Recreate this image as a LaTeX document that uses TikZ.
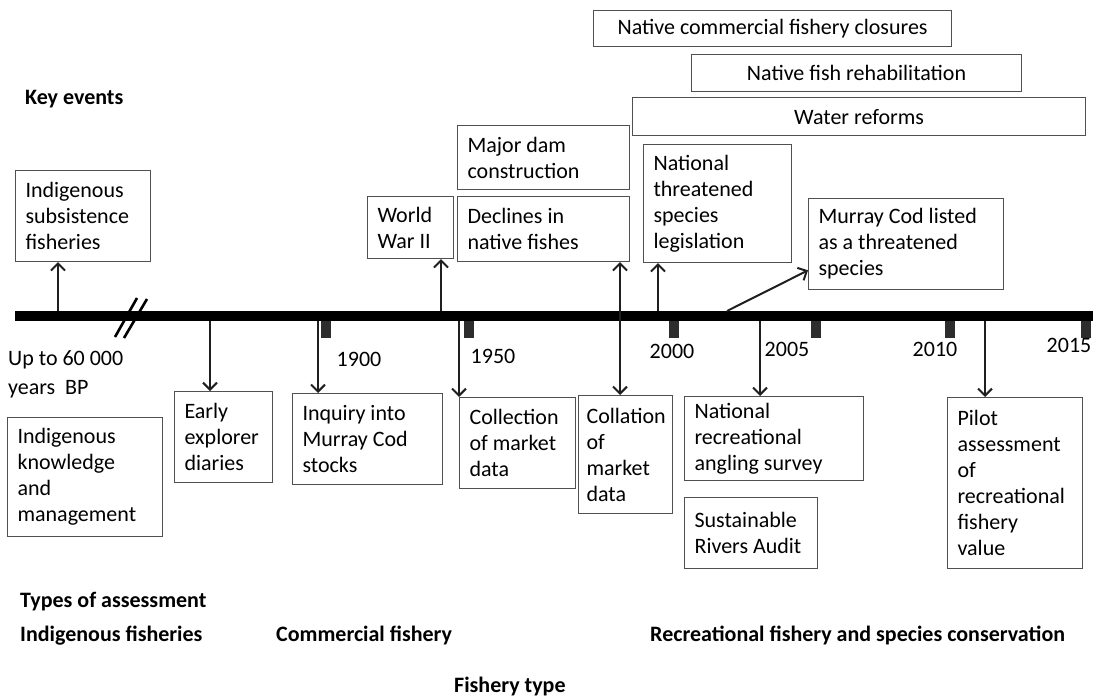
\documentclass[tikz,border=0pt]{standalone}
\usepackage{fontspec}
\setmainfont{Carlito}
\usetikzlibrary{arrows.meta}

\definecolor{boxgray}{RGB}{80,80,80}
\definecolor{tickgray}{RGB}{45,45,45}

\tikzset{
  evbox/.style={draw=boxgray, line width=1.1pt, anchor=north west, align=flush left, inner xsep=10pt, inner ysep=3pt},
  spanbox/.style={draw=boxgray, line width=1.1pt, anchor=north west, align=center, inner sep=0pt},
  evarrow/.style={draw=black!88, line width=2pt, -{Straight Barb[length=7pt,width=14pt,line width=2pt]}},
  yrlabel/.style={inner sep=0pt},
  heading/.style={font=\fontsize{22}{26}\selectfont\bfseries, anchor=base west, inner sep=0pt}
}

\begin{document}
\begin{tikzpicture}[x=1pt,y=-1pt,font=\fontsize{22}{26}\selectfont]
\useasboundingbox (0,0) rectangle (1102,698);

% time line
\coordinate (tl0) at (15,316);
\coordinate (tl1) at (1093,316);
\draw[line width=10pt] (tl0) -- (tl1);

% break in the line
\draw[line width=2.6pt] (115,337) -- (137,298);
\draw[line width=2.6pt] (124,338) -- (147,299);

% years
\fill[tickgray] (321,321) rectangle (331,338);
\fill[tickgray] (464,321) rectangle (474,338);
\fill[tickgray] (669,321) rectangle (679,338);
\fill[tickgray] (811,321) rectangle (821,338);
\fill[tickgray] (945,321) rectangle (955,338);
\fill[tickgray] (1081,321) rectangle (1091,338);
\node[yrlabel] (y1900) at (359,359) {1900};
\node[yrlabel] (y1950) at (493,356) {1950};
\node[yrlabel] (y2000) at (672,351) {2000};
\node[yrlabel] (y2005) at (787,349) {2005};
\node[yrlabel] (y2010) at (935,349) {2010};
\node[yrlabel] (y2015) at (1069,345) {2015};
\node[yrlabel, anchor=north west, align=flush left] (bp) at (8,350) {Up to 60 000\\[3pt]years~ BP};

% headings
\node[heading] (keyev) at (25,105) {Key events};
\node[heading] (types) at (20,607) {Types of assessment};
\node[heading] (indig) at (20,641) {Indigenous fisheries};
\node[heading] (comm) at (276,641) {Commercial fishery};
\node[heading] (recr) at (650,641) {Recreational fishery and species conservation};
\node[heading] (ftype) at (454,692) {Fishery type};

% key events
\node[spanbox, minimum width=358pt, minimum height=36pt] (closures) at (593,10) {Native commercial fishery closures};
\node[spanbox, minimum width=330pt, minimum height=37pt] (rehab) at (691,54) {Native fish rehabilitation};
\node[spanbox, minimum width=453pt, minimum height=38pt] (water) at (632,97) {Water reforms};
\node[evbox, text width=115pt, minimum height=91pt] (subsist) at (15,170) {Indigenous\\subsistence\\fisheries};
\node[evbox, text width=66pt, minimum height=62pt] (wwii) at (367,196) {World\\War II};
\node[evbox, text width=152pt, minimum height=64pt] (dam) at (457,125) {Major dam\\construction};
\node[evbox, text width=152pt, minimum height=65pt] (declines) at (457,196) {Declines in\\native fishes};
\node[evbox, text width=128pt, minimum height=118pt] (legis) at (643,144) {National\\threatened\\species\\legislation};
\node[evbox, text width=175pt, minimum height=91pt] (codlist) at (808,198) {Murray Cod listed\\as a threatened\\species};

% assessments
\node[evbox, text width=135pt, minimum height=119pt] (knowl) at (7,417) {Indigenous\\knowledge\\and\\management};
\node[evbox, text width=78pt, minimum height=91pt] (explor) at (174,391) {Early\\explorer\\diaries};
\node[evbox, text width=130pt, minimum height=91pt] (inquiry) at (292,393) {Inquiry into\\Murray Cod\\stocks};
\node[evbox, text width=96pt, minimum height=91pt] (collect) at (459,397) {Collection\\of market\\data};
\node[evbox, inner xsep=8pt, text width=78pt, minimum height=118pt] (collat) at (578,395) {Collation\\of\\market\\data};
\node[evbox, text width=159pt, minimum height=84pt] (angling) at (684,396) {National\\recreational\\angling survey};
\node[evbox, text width=113pt, minimum height=71pt] (audit) at (684,497) {Sustainable\\Rivers Audit};
\node[evbox, text width=115pt, minimum height=171pt] (pilot) at (947,397) {Pilot\\assessment\\of\\recreational\\fishery\\value};

% points on the time line
\coordinate (p1) at (58,311);
\coordinate (p2) at (210,321);
\coordinate (p3) at (318,321);
\coordinate (p4) at (441,311);
\coordinate (p5) at (459,321);
\coordinate (p6) at (658,311);
\coordinate (p7) at (727,311);
\coordinate (p8) at (760,321);
\coordinate (p9) at (985,321);

% connectors
\draw[evarrow] (p1) -- (subsist.south -| p1);
\draw[evarrow] (p2) -- (explor.north -| p2);
\draw[evarrow] (p3) -- (inquiry.north -| p3);
\draw[evarrow] (p4) -- (wwii.south -| p4);
\draw[evarrow] (p5) -- (collect.north -| p5);
\draw[evarrow, {Straight Barb[length=7pt,width=14pt,line width=2pt]}-{Straight Barb[length=7pt,width=14pt,line width=2pt]}] (declines.south -| 620,0) -- (collat.north -| 620,0);
\draw[evarrow] (p6) -- (legis.south -| p6);
\draw[evarrow] (p7) -- (codlist.195);
\draw[evarrow] (p8) -- (angling.north -| p8);
\draw[evarrow] (p9) -- (pilot.north -| p9);
\end{tikzpicture}
\end{document}
